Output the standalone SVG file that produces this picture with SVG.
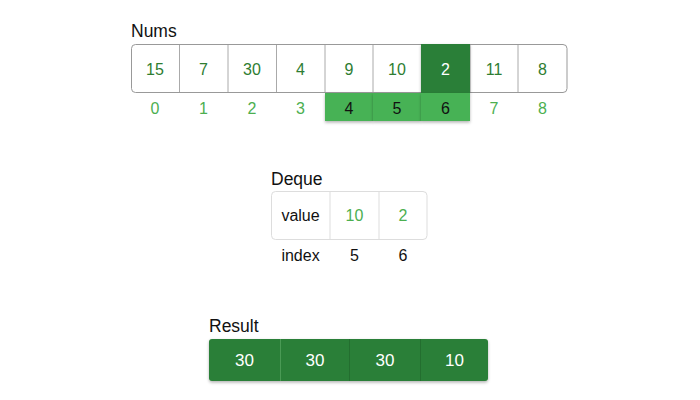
<svg xmlns="http://www.w3.org/2000/svg" width="700" height="400" viewBox="0 0 700 400">
<defs>
<style>
text{font-family:"Liberation Sans",Arial,sans-serif;}
.lbl{font-size:17.5px;fill:#111;}
.v{font-size:16px;fill:#2e7d32;text-anchor:middle;}
.i{font-size:16px;fill:#4caf50;text-anchor:middle;}
.ik{font-size:16px;fill:#111;text-anchor:middle;}
.w{font-size:17px;fill:#fff;text-anchor:middle;}
.cell{fill:#fff;stroke:#999;stroke-width:1;}
.sep{stroke:#aaa;stroke-width:1;}
.dsep{stroke:#ddd;stroke-width:1;}
.hl{fill:#46b254;}
</style>
<filter id="sh" x="-20%" y="-20%" width="140%" height="160%">
<feDropShadow dx="0" dy="1.5" stdDeviation="1.5" flood-color="#000" flood-opacity="0.3"/>
</filter>
</defs>

<g id="nums">
<text class="lbl" x="131" y="37">Nums</text>
<rect class="cell" x="131.5" y="44.5" width="435.5" height="48" rx="4"/>
<g class="sep">
<line x1="179.5" y1="45" x2="179.5" y2="92"/>
<line x1="228" y1="45" x2="228" y2="92"/>
<line x1="276.5" y1="45" x2="276.5" y2="92"/>
<line x1="325" y1="45" x2="325" y2="92"/>
<line x1="373" y1="45" x2="373" y2="92"/>
<line x1="470" y1="45" x2="470" y2="92"/>
<line x1="518" y1="45" x2="518" y2="92"/>
</g>
<rect x="421" y="44" width="49" height="49" fill="#2a7f37" filter="url(#sh)"/>
<g id="idxhl">
<rect class="hl" x="325" y="93" width="48" height="28" filter="url(#sh)"/>
<rect class="hl" x="373" y="93" width="48" height="28" filter="url(#sh)"/>
<rect class="hl" x="421" y="93" width="49" height="28" filter="url(#sh)"/>
</g>
<text class="v" x="155" y="75">15</text>
<text class="v" x="203.5" y="75">7</text>
<text class="v" x="252" y="75">30</text>
<text class="v" x="300.5" y="75">4</text>
<text class="v" x="349" y="75">9</text>
<text class="v" x="397" y="75">10</text>
<text class="w" x="445.5" y="75" style="font-size:16px">2</text>
<text class="v" x="494" y="75">11</text>
<text class="v" x="542.5" y="75">8</text>
<text class="i" x="155" y="114">0</text>
<text class="i" x="203.5" y="114">1</text>
<text class="i" x="252" y="114">2</text>
<text class="i" x="300.5" y="114">3</text>
<text class="ik" x="349" y="114">4</text>
<text class="ik" x="397" y="114">5</text>
<text class="ik" x="445.5" y="114">6</text>
<text class="i" x="494" y="114">7</text>
<text class="i" x="542.5" y="114">8</text>
</g>

<g id="deque">
<text class="lbl" x="271" y="185">Deque</text>
<rect x="271.5" y="191.5" width="155.5" height="48" rx="4" fill="#fff" stroke="#ddd"/>
<line class="dsep" x1="330" y1="192" x2="330" y2="239"/>
<line class="dsep" x1="379" y1="192" x2="379" y2="239"/>
<text class="ik" x="300.5" y="221">value</text>
<text class="i" x="354.5" y="221">10</text>
<text class="i" x="403" y="221">2</text>
<text class="ik" x="300.5" y="261">index</text>
<text class="ik" x="354.5" y="261">5</text>
<text class="ik" x="403" y="261">6</text>
</g>

<g id="result">
<text class="lbl" x="209" y="332">Result</text>
<rect x="209" y="339" width="279" height="42" rx="3" fill="#2a7f37" filter="url(#sh)"/>
<line x1="280.5" y1="339" x2="280.5" y2="381" stroke="#4a9a55" stroke-width="1"/>
<line x1="349.5" y1="339" x2="349.5" y2="381" stroke="#236e2f" stroke-width="1"/>
<line x1="420.5" y1="339" x2="420.5" y2="381" stroke="#236e2f" stroke-width="1"/>
<text class="w" x="244.5" y="366">30</text>
<text class="w" x="315" y="366">30</text>
<text class="w" x="385" y="366">30</text>
<text class="w" x="454.5" y="366">10</text>
</g>

<g id="connectors"/>
</svg>
